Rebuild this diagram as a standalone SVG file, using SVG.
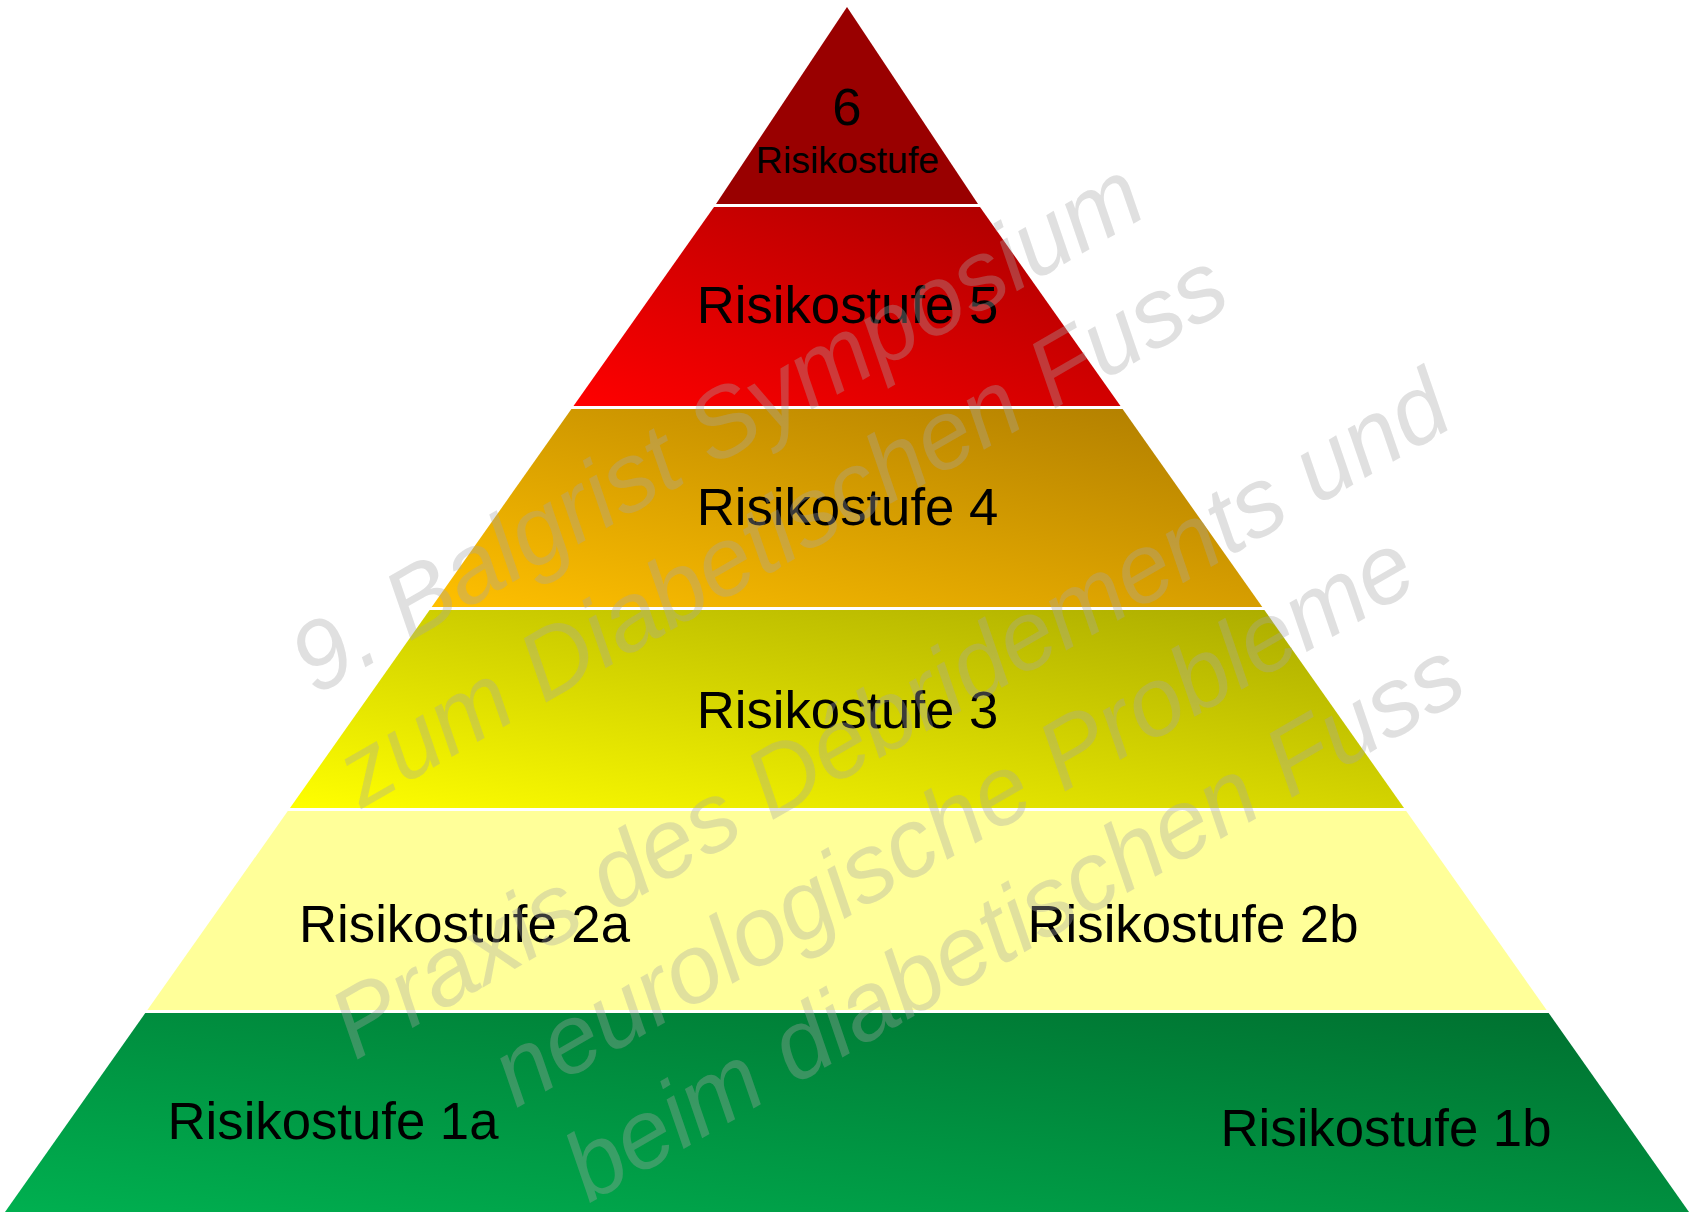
<svg xmlns="http://www.w3.org/2000/svg" width="1694" height="1212" viewBox="0 0 1694 1212">
  <style>
    .lbl { font-family: "Liberation Sans", Arial, sans-serif; fill: #000000; font-size: 52.7px; }
    .c { text-anchor: middle; }
    .wm { font-family: "Liberation Sans", Arial, sans-serif; font-style: italic; font-size: 97px; fill: #a6a6a6; fill-opacity: 0.35; text-anchor: middle; }
  </style>
  <defs>
    <linearGradient id="g5" x1="0" y1="1" x2="1" y2="0">
      <stop offset="0" stop-color="#ff0000"/>
      <stop offset="1" stop-color="#a60000"/>
    </linearGradient>
    <linearGradient id="g4" x1="0" y1="1" x2="1" y2="0">
      <stop offset="0" stop-color="#ffc000"/>
      <stop offset="1" stop-color="#ae7c00"/>
    </linearGradient>
    <linearGradient id="g3" x1="0" y1="1" x2="1" y2="0">
      <stop offset="0" stop-color="#ffff00"/>
      <stop offset="1" stop-color="#a8a800"/>
    </linearGradient>
    <linearGradient id="g1" x1="0" y1="1" x2="1" y2="0">
      <stop offset="0" stop-color="#00b050"/>
      <stop offset="1" stop-color="#006f2f"/>
    </linearGradient>
  </defs>
  <rect x="0" y="0" width="1694" height="1212" fill="#ffffff"/>

  <g id="stufe6">
    <polygon points="847,7 978,204 716,204" fill="#990000"/>
    <text class="lbl c" x="847" y="125">6</text>
    <text class="lbl c" x="847.5" y="173" style="font-size:37.5px">Risikostufe</text>
  </g>

  <g id="stufe5">
    <polygon points="714,207 980,207 1120.5,406 573.5,406" fill="url(#g5)"/>
    <text class="lbl c" x="847.5" y="323">Risikostufe 5</text>
  </g>

  <g id="stufe4">
    <polygon points="571.4,409 1122.6,409 1262.3,607 431.7,607" fill="url(#g4)"/>
    <text class="lbl c" x="847.5" y="525">Risikostufe 4</text>
  </g>

  <g id="stufe3">
    <polygon points="429.6,610 1264.4,610 1404,808 290,808" fill="url(#g3)"/>
    <text class="lbl c" x="847.5" y="728">Risikostufe 3</text>
  </g>

  <g id="stufe2">
    <polygon points="287.8,811 1406.2,811 1546.6,1010 147.4,1010" fill="#ffff99"/>
    <text class="lbl c" x="464.5" y="942">Risikostufe 2a</text>
    <text class="lbl c" x="1193" y="942">Risikostufe 2b</text>
  </g>

  <g id="stufe1">
    <polygon points="145.3,1013 1548.7,1013 1689,1212 5,1212" fill="url(#g1)"/>
    <text class="lbl c" x="333" y="1139">Risikostufe 1a</text>
    <text class="lbl c" x="1386" y="1146">Risikostufe 1b</text>
  </g>

  <g id="watermark">
    <text class="wm" transform="translate(733,455) rotate(-30)">9. Balgrist Symposium</text>
    <text class="wm" transform="translate(798,557) rotate(-30)">zum Diabetischen Fuss</text>
    <text class="wm" transform="translate(906,743) rotate(-30)">Praxis des Débridements und</text>
    <text class="wm" transform="translate(969,847) rotate(-30)">neurologische Probleme</text>
    <text class="wm" transform="translate(1030,949) rotate(-30)">beim diabetischen Fuss</text>
  </g>
</svg>
